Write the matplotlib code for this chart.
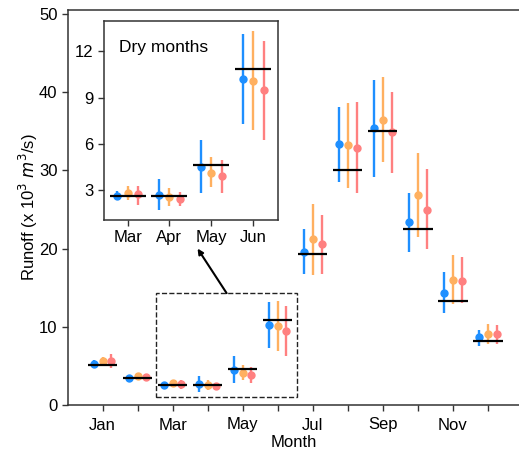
import matplotlib
matplotlib.use('Agg')
import matplotlib.pyplot as plt
from matplotlib.patches import Rectangle

plt.rcParams['font.family'] = ['Liberation Sans', 'DejaVu Sans']

# monthly runoff (x 10^3 m3/s)
months = list(range(1, 13))
month_labels = ['Jan', '', 'Mar', '', 'May', '', 'Jul', '', 'Sep', '', 'Nov', '']
observed = [5.08, 3.5, 2.6, 2.6, 4.64, 10.86, 19.3, 30.1, 35.0, 22.55, 13.34, 8.23]

blue_mid = [5.2, 3.5, 2.61, 2.67, 4.49, 10.21, 19.6, 33.4, 35.4, 23.36, 14.36, 8.65]
blue_lo = [4.7, 3.3, 2.33, 1.68, 2.80, 7.30, 16.75, 28.55, 29.2, 19.6, 11.7, 7.6]
blue_hi = [5.75, 3.75, 2.93, 3.71, 6.22, 13.13, 22.47, 38.1, 41.56, 27.07, 17.0, 9.6]

orange_mid = [5.6, 3.75, 2.83, 2.55, 4.12, 10.10, 21.2, 33.2, 36.5, 26.85, 16.0, 9.08]
orange_lo = [5.0, 3.45, 2.38, 1.94, 3.19, 6.91, 16.6, 27.7, 31.1, 21.5, 12.9, 7.76]
orange_hi = [6.1, 4.0, 3.26, 3.15, 5.14, 13.34, 25.7, 38.66, 41.9, 32.2, 19.2, 10.4]

red_mid = [5.6, 3.6, 2.72, 2.40, 3.89, 9.46, 20.55, 32.9, 34.9, 24.98, 15.9, 9.08]
red_lo = [4.7, 3.35, 2.0, 1.94, 2.83, 6.22, 16.75, 27.07, 29.67, 19.9, 13.0, 7.76]
red_hi = [6.5, 3.85, 3.26, 2.87, 4.92, 12.69, 24.3, 38.8, 40.0, 30.2, 18.97, 10.2]

series = [
    (blue_mid, blue_lo, blue_hi, '#1E8FFF', -0.25),
    (orange_mid, orange_lo, orange_hi, '#FFB060', 0.0),
    (red_mid, red_lo, red_hi, '#FF8080', 0.25),
]
dry = [3, 4, 5, 6]


def draw(ax, idx, ms=5, half=0.42):
    for mid, lo, hi, col, off in series:
        x = [months[i] + off for i in idx]
        y = [mid[i] for i in idx]
        err = [[mid[i] - lo[i] for i in idx], [hi[i] - mid[i] for i in idx]]
        ax.errorbar(x, y, yerr=err, fmt='o', color=col, ms=ms, elinewidth=1.7, capsize=0, zorder=3)
    for i in idx:
        ax.hlines(observed[i], months[i] - half, months[i] + half, color='black', lw=1.6, zorder=4)


fig = plt.figure(figsize=(5.19, 4.54), dpi=100)
ax = fig.add_axes([68 / 519, 49 / 454, 451 / 519, 395 / 454])
draw(ax, range(12))
ax.set_xlim(0.01, 12.89)
ax.set_ylim(0, 50.5)
ax.set_xticks(months)
ax.set_xticklabels(month_labels)
ax.set_yticks([0, 10, 20, 30, 40, 50])
ax.tick_params(labelsize=12, length=4, width=1, color='#333333')
ax.tick_params(axis='x', pad=5)
ax.set_xlabel('Month', fontsize=12, labelpad=2)
ax.set_ylabel('Runoff (x 10$^3$ $m^3$/s)', fontsize=12, labelpad=-1)
ax.spines['right'].set_visible(False)
for s in ['left', 'bottom', 'top']:
    ax.spines[s].set_color('#333333')
    ax.spines[s].set_linewidth(1.1)

# dashed box around the dry months
ax.add_patch(Rectangle((2.51, 1.06), 4.03, 13.24, fill=False, ls='--', lw=1, ec='#222222', zorder=5))
ax.annotate('', xy=(3.71, 20.0), xytext=(4.54, 14.3),
            arrowprops=dict(arrowstyle='-|>', lw=1.5, color='black', mutation_scale=8, shrinkA=0, shrinkB=0))

# inset
axin = fig.add_axes([103.7 / 519, 234 / 454, 174.6 / 519, 198.7 / 454])
draw(axin, [i - 1 for i in dry], ms=5, half=0.43)
axin.set_xlim(2.43, 6.6)
axin.set_ylim(1.05, 13.95)
axin.set_xticks(dry)
axin.set_xticklabels(['Mar', 'Apr', 'May', 'Jun'])
axin.set_yticks([3, 6, 9, 12])
axin.tick_params(labelsize=12, length=4, width=1, color='#333333')
for s in axin.spines.values():
    s.set_color('#333333')
    s.set_linewidth(1.1)
axin.text(0.09, 0.87, 'Dry months', transform=axin.transAxes, fontsize=12.5, ha='left', va='center')

fig.savefig('out.png', dpi=100)
